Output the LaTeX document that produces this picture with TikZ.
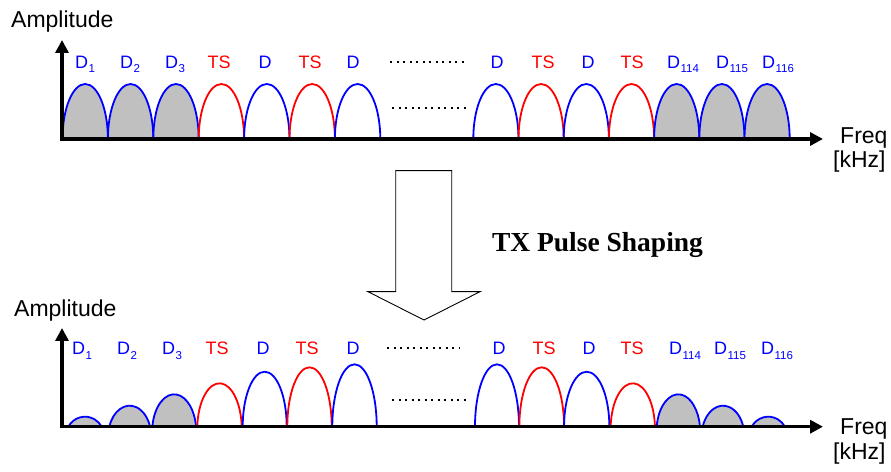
\documentclass[tikz,border=0pt]{standalone}
\usepackage{fontspec}
\setmainfont{Liberation Sans}
\newfontfamily\tnr{Liberation Serif}
\usetikzlibrary{arrows.meta}
\definecolor{humpgray}{HTML}{C0C0C0}
\definecolor{dblue}{HTML}{0000FF}
\definecolor{tsred}{HTML}{FF0000}
\tikzset{
  axis/.style={line width=3.5pt, -{Triangle[length=13pt,width=13pt]}},
  lbl/.style={anchor=base, inner sep=0pt, font=\fontsize{18}{20}\selectfont},
  dlbl/.style={lbl, text=dblue},
  tlbl/.style={lbl, text=tsred},
  axlbl/.style={anchor=base west, inner sep=0pt, font=\fontsize{23}{26}\selectfont},
  dots/.style={line width=2.2pt, dash pattern=on 2.2pt off 4.3pt},
  bigarrow/.style={draw=black, line width=0.9pt, fill=white, line join=miter},
}
% #1 cx, #2 baseline y, #3 width, #4 height, #5 alpha, #6 options
\newcommand{\myhump}[6]{%
  \pgfmathsetmacro\hyr{(#4)/(1-sin(#5))}%
  \pgfmathsetmacro\hxr{((#3)/2)/cos(#5)}%
  \path[#6, line width=1.8pt] ({#1-(#3)/2},#2) arc[start angle={180-#5}, end angle={#5}, x radius=\hxr, y radius=\hyr];%
}
\newcommand{\lsub}[1]{\kern0.5pt\raisebox{-4.2pt}{\fontsize{11.5}{13}\selectfont #1}}
\begin{document}
\begin{tikzpicture}[x=1pt,y=1pt]
\useasboundingbox (0,0) rectangle (891,471);
% ---------- top panel ----------
\def\bt{332}
\myhump{85.2}{\bt}{45.4}{55}{0}{draw=dblue, fill=humpgray}
\myhump{130.6}{\bt}{45.4}{55}{0}{draw=dblue, fill=humpgray}
\myhump{176.0}{\bt}{45.4}{55}{0}{draw=dblue, fill=humpgray}
\myhump{221.4}{\bt}{45.4}{55}{0}{draw=tsred}
\myhump{266.8}{\bt}{45.4}{55}{0}{draw=dblue}
\myhump{312.2}{\bt}{45.4}{55}{0}{draw=tsred}
\myhump{357.6}{\bt}{45.4}{55}{0}{draw=dblue}
\myhump{495.9}{\bt}{45.2}{55}{0}{draw=dblue}
\myhump{541.1}{\bt}{45.2}{55}{0}{draw=tsred}
\myhump{586.3}{\bt}{45.2}{55}{0}{draw=dblue}
\myhump{631.5}{\bt}{45.2}{55}{0}{draw=tsred}
\myhump{676.7}{\bt}{45.2}{55}{0}{draw=dblue, fill=humpgray}
\myhump{721.9}{\bt}{45.2}{55}{0}{draw=dblue, fill=humpgray}
\myhump{767.1}{\bt}{45.2}{55}{0}{draw=dblue, fill=humpgray}
\coordinate (o1) at (62,\bt);
\coordinate (ytip1) at (62,431);
\coordinate (xtip1) at (823,\bt);
\draw[axis] ([yshift=-1.75pt]o1) -- (ytip1);
\draw[axis] ([xshift=-1.75pt]o1) -- (xtip1);
\def\lt{402.7}
\node[dlbl] (t1) at (85,\lt) {D\lsub{1}};
\node[dlbl] (t2) at (130,\lt) {D\lsub{2}};
\node[dlbl] (t3) at (175,\lt) {D\lsub{3}};
\node[tlbl] (t4) at (219,\lt) {TS};
\node[dlbl] (t5) at (265,\lt) {D};
\node[tlbl] (t6) at (310,\lt) {TS};
\node[dlbl] (t7) at (353,\lt) {D};
\node[dlbl] (t8) at (497,\lt) {D};
\node[tlbl] (t9) at (543,\lt) {TS};
\node[dlbl] (t10) at (588,\lt) {D};
\node[tlbl] (t11) at (632,\lt) {TS};
\node[dlbl] (t12) at (683,\lt) {D\lsub{114}};
\node[dlbl] (t13) at (732,\lt) {D\lsub{115}};
\node[dlbl] (t14) at (778,\lt) {D\lsub{116}};
\draw[dots] (390,409) -- (466,409);
\draw[dots] (392,363) -- (468,363);
\node[axlbl] (amp1) at (11,443.7) {Amplitude};
\node[axlbl] (freq1) at (840,327) {Freq};
\node[axlbl] (khz1) at (833,303) {[kHz]};
% ---------- big arrow ----------
\draw[bigarrow] (395.7,300.3) -- (451.7,300.3) -- (451.7,179.3) -- (480,179.3) -- (424,151) -- (368,179.3) -- (395.7,179.3) -- cycle;
\node[anchor=center, inner sep=0pt, font=\tnr\bfseries\fontsize{27.5}{30}\selectfont] (tx) at (597.5,226) {TX Pulse Shaping};
% ---------- bottom panel ----------
\def\bb{44.3}
\myhump{85.0}{\bb}{33.4}{10}{30}{draw=dblue, fill=humpgray}
\myhump{129.7}{\bb}{40.7}{21}{18}{draw=dblue, fill=humpgray}
\myhump{174.2}{\bb}{43.7}{32.4}{8}{draw=dblue, fill=humpgray}
\myhump{219.5}{\bb}{44.4}{43.4}{3}{draw=tsred}
\myhump{264.7}{\bb}{44.0}{55}{0}{draw=dblue}
\myhump{309.5}{\bb}{44.4}{59.4}{0}{draw=tsred}
\myhump{354.5}{\bb}{44.4}{62.4}{0}{draw=dblue}
\myhump{497.0}{\bb}{44.0}{62.4}{0}{draw=dblue}
\myhump{541.7}{\bb}{44.7}{59.4}{0}{draw=tsred}
\myhump{586.7}{\bb}{45.3}{55}{0}{draw=dblue}
\myhump{632.8}{\bb}{44.3}{43.4}{3}{draw=tsred}
\myhump{678.3}{\bb}{43.3}{32.4}{8}{draw=dblue, fill=humpgray}
\myhump{723.0}{\bb}{40.6}{21}{18}{draw=dblue, fill=humpgray}
\myhump{768.3}{\bb}{33.3}{10}{30}{draw=dblue, fill=humpgray}
\coordinate (o2) at (62,\bb);
\coordinate (ytip2) at (62,143);
\coordinate (xtip2) at (823,\bb);
\draw[axis] ([yshift=-1.75pt]o2) -- (ytip2);
\draw[axis] ([xshift=-1.75pt]o2) -- (xtip2);
\def\lb{116}
\node[dlbl] (b1) at (82,\lb) {D\lsub{1}};
\node[dlbl] (b2) at (127,\lb) {D\lsub{2}};
\node[dlbl] (b3) at (172,\lb) {D\lsub{3}};
\node[tlbl] (b4) at (217,\lb) {TS};
\node[dlbl] (b5) at (263,\lb) {D};
\node[tlbl] (b6) at (307,\lb) {TS};
\node[dlbl] (b7) at (353,\lb) {D};
\node[dlbl] (b8) at (499,\lb) {D};
\node[tlbl] (b9) at (544,\lb) {TS};
\node[dlbl] (b10) at (589,\lb) {D};
\node[tlbl] (b11) at (632,\lb) {TS};
\node[dlbl] (b12) at (685,\lb) {D\lsub{114}};
\node[dlbl] (b13) at (730,\lb) {D\lsub{115}};
\node[dlbl] (b14) at (777,\lb) {D\lsub{116}};
\draw[dots] (387,123) -- (460,123);
\draw[dots] (392,71) -- (468,71);
\node[axlbl] (amp2) at (14,154.3) {Amplitude};
\node[axlbl] (freq2) at (840,36) {Freq};
\node[axlbl] (khz2) at (833,12) {[kHz]};
\end{tikzpicture}
\end{document}
